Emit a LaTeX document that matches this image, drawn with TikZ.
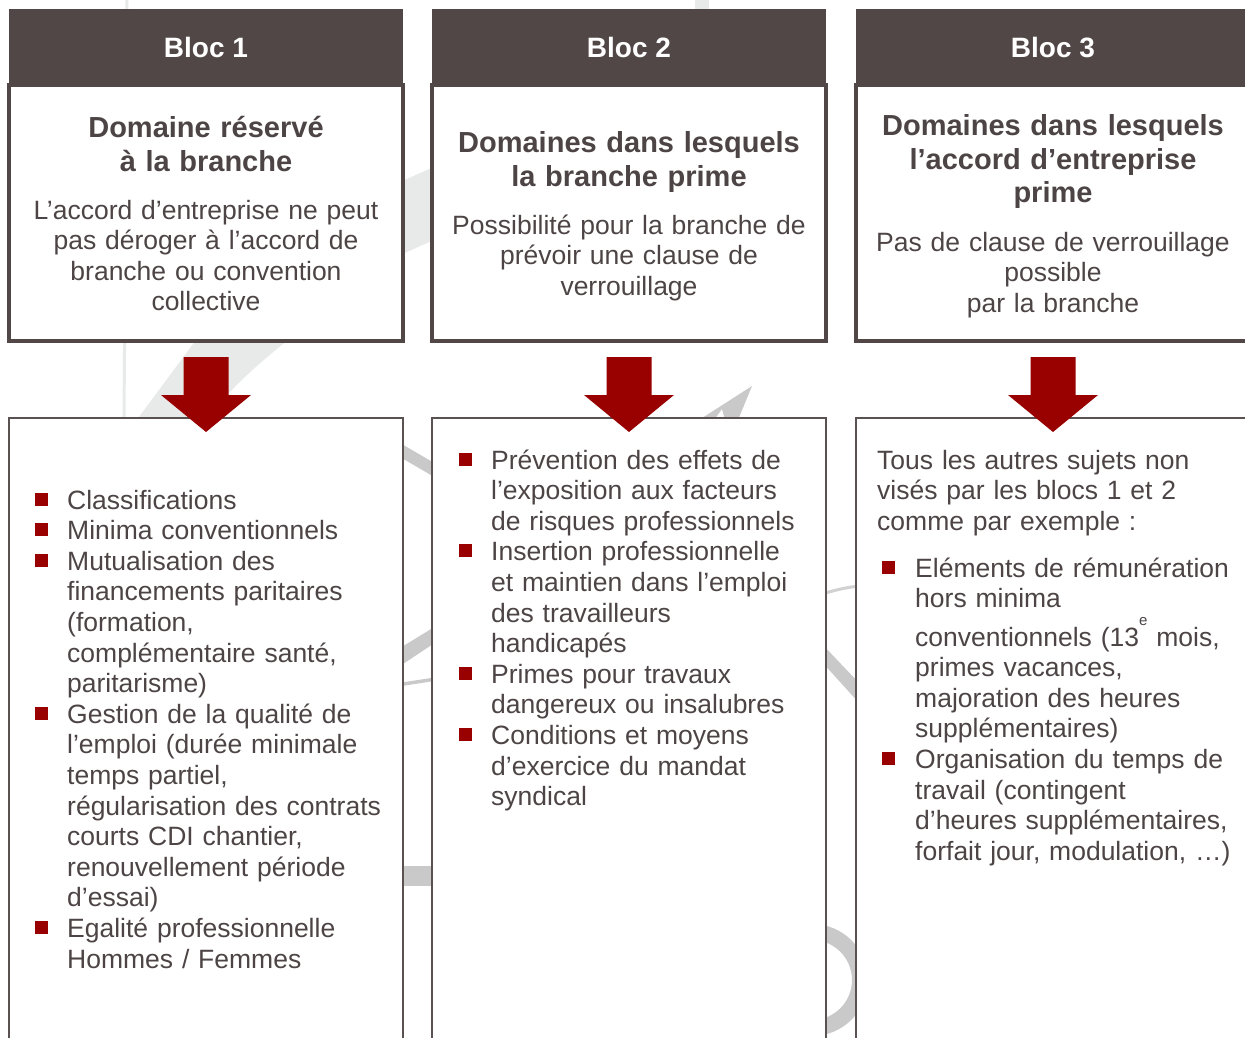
\documentclass[tikz,border=0pt]{standalone}
\usepackage{fontspec}
\setmainfont{Liberation Sans}
\definecolor{hdrc}{HTML}{504746}
\definecolor{txtc}{HTML}{4D4545}
\definecolor{lowc}{HTML}{5A5151}
\definecolor{redc}{HTML}{990000}
\definecolor{wml}{HTML}{E8E9E9}
\definecolor{wmg}{HTML}{C9C9C9}
\tikzset{
  hdr/.style={fill=hdrc, draw=none, minimum width=394pt, minimum height=77pt, anchor=north west, inner sep=0pt, outer sep=0pt,
    text=white, font=\fontsize{28}{33}\selectfont\bfseries},
  upbox/.style={draw=hdrc, line width=3.2pt, fill=white, minimum width=394pt, minimum height=256pt, anchor=north west, inner sep=0pt, outer sep=0pt},
  lowbox/.style={draw=lowc, line width=2pt, fill=white, minimum width=394pt, minimum height=650pt, anchor=north west, inner sep=0pt, outer sep=0pt},
  ttl/.style={text=txtc, font=\fontsize{29}{33.7}\selectfont\bfseries, anchor=base, align=center, text width=390pt, inner sep=0pt},
  bdy/.style={text=txtc, font=\fontsize{26.5}{30.5}\selectfont, anchor=base, align=center, text width=390pt, inner sep=0pt},
  itm/.style={text=txtc, font=\fontsize{26.5}{30.6}\selectfont, anchor=base west, align=left, text width=335pt, inner sep=0pt},
  sq/.style={fill=redc, draw=none, minimum size=13pt, inner sep=0pt},
  blockarrow/.style={fill=redc, draw=none}
}
\begin{document}
\begin{tikzpicture}[x=1pt,y=-1pt]
\path[use as bounding box] (0,0) rectangle (1245,1037);
\clip (0,0) rectangle (1245,1037);
\fill[white] (0,0) rectangle (1245,1037);

% faint background logo (watermark) fragments
\fill[wml] (125.5,0) -- (128.5,0) -- (125.5,420) -- (122.5,420) -- cycle;
\fill[wml] (695,0) rectangle (709,12);
\fill[wml] (400,182) -- (436,166) -- (436,239) -- (400,255) -- cycle;
\fill[wml] (136,421) -- (196,340) -- (288,340) .. controls (250,370) and (225,395) .. (205,421) -- cycle;
\fill[wmg] (752,386) -- (738,420) -- (725,420) -- (722,409) -- (714,420) -- (699,420) -- cycle;
\fill[wmg] (400,443) -- (436,464) -- (436,478) -- (400,457) -- cycle;
\fill[wmg] (400,648) -- (436,626) -- (436,642) -- (400,666) -- cycle;
\draw[wmg, line width=3.5pt] (400,684.5) -- (436,679);
\fill[wmg] (400,866) rectangle (436,886);
\draw[wmg!85, line width=3pt] (822,594) .. controls (835,590) and (848,587) .. (860,586);
\fill[wmg] (822,644) -- (860,684) -- (860,704) -- (822,662) -- cycle;
\draw[wmg, line width=16pt] (812,980) circle (48);

% lower boxes
\node[lowbox] (l1) at (9,418) {};
\node[lowbox] (l2) at (432,418) {};
\node[lowbox] (l3) at (856,418) {};

% upper boxes and headers
\node[upbox] (u1) at (9,85) {};
\node[upbox] (u2) at (432,85) {};
\node[upbox] (u3) at (856,85) {};
\node[hdr] (h1) at (9,9) {Bloc 1};
\node[hdr] (h2) at (432,9) {Bloc 2};
\node[hdr] (h3) at (856,9) {Bloc 3};

% arrows from upper to lower boxes
\foreach \u in {u1,u2,u3}{
  \fill[blockarrow, shift={(\u.south)}] (-22.5,16) -- (22.5,16) -- (22.5,54) -- (45,54) -- (0,91) -- (-45,54) -- (-22.5,54) -- cycle;
}

% upper texts
\node[ttl] (t1) at (206,137.5) {Domaine réservé\\à la branche};
\node[bdy] (b1) at (206,219) {L’accord d’entreprise ne peut\\pas déroger à l’accord de\\branche ou convention\\collective};
\node[ttl] (t2) at (629,152.5) {Domaines dans lesquels\\la branche prime};
\node[bdy] (b2) at (629,234) {Possibilité pour la branche de\\prévoir une clause de\\verrouillage};
\node[ttl] (t3) at (1053,135.5) {Domaines dans lesquels\\l’accord d’entreprise\\prime};
\node[bdy] (b3) at (1053,251) {Pas de clause de verrouillage\\possible\\par la branche};

% column 1 list
\node[itm] (i11) at (67,509) {Classifications};
\node[itm] (i12) at (67,539.6) {Minima conventionnels};
\node[itm] (i13) at (67,570.2) {Mutualisation des\\financements paritaires\\(formation,\\complémentaire santé,\\paritarisme)};
\node[itm] (i14) at (67,723.2) {Gestion de la qualité de\\l’emploi (durée minimale\\temps partiel,\\régularisation des contrats\\courts CDI chantier,\\renouvellement période\\d’essai)};
\node[itm] (i15) at (67,937.4) {Egalité professionnelle\\Hommes / Femmes};
\foreach \y in {509,539.6,570.2,723.2,937.4}{ \node[sq] at (41,\y-10) {}; }

% column 2 list
\node[itm] (i21) at (491,469) {Prévention des effets de\\l’exposition aux facteurs\\de risques professionnels};
\node[itm] (i22) at (491,560.8) {Insertion professionnelle\\et maintien dans l’emploi\\des travailleurs\\handicapés};
\node[itm] (i23) at (491,683.2) {Primes pour travaux\\dangereux ou insalubres};
\node[itm] (i24) at (491,744.4) {Conditions et moyens\\d’exercice du mandat\\syndical};
\foreach \y in {469,560.8,683.2,744.4}{ \node[sq] at (465,\y-10) {}; }

% column 3
\node[itm] (i30) at (877,469) {Tous les autres sujets non\\visés par les blocs 1 et 2\\comme par exemple :};
\node[itm] (i31) at (915,577) {Eléments de rémunération\\hors minima\\[7.8pt]conventionnels (13\raisebox{21pt}{\fontsize{15}{15}\selectfont e} mois,\\primes vacances,\\majoration des heures\\supplémentaires)};
\node[itm] (i32) at (915,768.4) {Organisation du temps de\\travail (contingent\\d’heures supplémentaires,\\forfait jour, modulation, …)};
\foreach \y in {577,768.4}{ \node[sq] at (888.5,\y-10) {}; }
\end{tikzpicture}
\end{document}
